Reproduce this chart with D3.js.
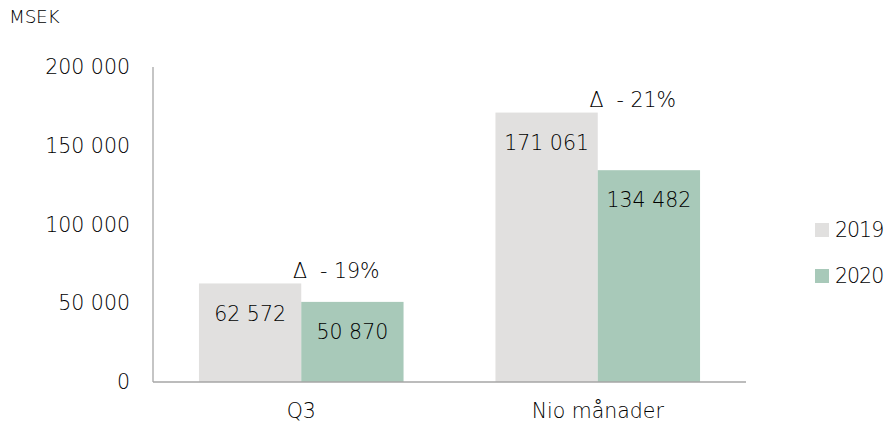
<!DOCTYPE html>
<html><head><meta charset="utf-8">
<script src="https://cdn.jsdelivr.net/npm/d3@7"></script>
<style>
body{margin:0;background:#fff;}
text{font-family:"DejaVu Sans",sans-serif;font-weight:300;fill:#000;}
</style></head><body>
<svg id="c" width="891" height="427"></svg>
<script>
const categories = ["Q3", "Nio månader"];
const seriesNames = ["2019", "2020"];
const values2019 = [62572, 171061];
const values2020 = [50870, 134482];
const valueLabels2019 = ["62 572", "171 061"];
const valueLabels2020 = ["50 870", "134 482"];
const deltaLabels = ["Δ  - 19%", "Δ  - 21%"];
const yTicks = [0, 50000, 100000, 150000, 200000];
const yTickLabels = ["0", "50 000", "100 000", "150 000", "200 000"];
const colors = ["#e1e0df", "#a8c9b9"];

const svg = d3.select("#c");
const mLeft = 153, mRight = 746, mTop = 67, mBottom = 382;
const x = d3.scaleBand().domain(categories).range([mLeft, mRight]).paddingInner(0.31).paddingOuter(0.155);
const xs = d3.scaleBand().domain(seriesNames).range([0, x.bandwidth()]);
const y = d3.scaleLinear().domain([0, 200000]).range([mBottom, mTop]);
const fs = 20.5;

svg.append("g").selectAll("text").data(yTicks).join("text")
  .attr("x", 130).attr("y", d => y(d)).attr("dy", "0.35em")
  .attr("text-anchor", "end").attr("font-size", fs)
  .text((d, i) => yTickLabels[i]);

svg.append("text").attr("x", 9).attr("y", 17).attr("dy", "0.35em").attr("font-size", 18.5)
  .attr("letter-spacing", "-0.3").text("MSEK");

const series = [values2019, values2020];
const labs = [valueLabels2019, valueLabels2020];
series.forEach((vals, s) => {
  const g = svg.append("g");
  g.selectAll("rect").data(categories).join("rect")
    .attr("x", c => x(c) + xs(seriesNames[s]))
    .attr("width", xs.bandwidth())
    .attr("y", (c, i) => y(vals[i]))
    .attr("height", (c, i) => y(0) - y(vals[i]))
    .attr("fill", colors[s]);
  g.selectAll("text").data(categories).join("text")
    .attr("x", c => x(c) + xs(seriesNames[s]) + xs.bandwidth() / 2)
    .attr("y", (c, i) => y(vals[i]) + 30)
    .attr("dy", "0.35em").attr("text-anchor", "middle").attr("font-size", fs)
    .text((c, i) => labs[s][i]);
});

svg.append("g").selectAll("text").data(categories).join("text")
  .attr("x", c => x(c) + x.bandwidth() / 2 + 35)
  .attr("y", (c, i) => y(values2019[i]) - 13)
  .attr("dy", "0.35em").attr("text-anchor", "middle").attr("font-size", fs)
  .style("white-space", "pre")
  .text((c, i) => deltaLabels[i]);

svg.append("line").attr("x1", mLeft).attr("x2", mLeft).attr("y1", mTop).attr("y2", mBottom)
  .attr("stroke", "#a6a6a6").attr("stroke-width", 1.3);
svg.append("line").attr("x1", mLeft).attr("x2", mRight).attr("y1", mBottom).attr("y2", mBottom)
  .attr("stroke", "#a6a6a6").attr("stroke-width", 1.3);

svg.append("g").selectAll("text").data(categories).join("text")
  .attr("x", c => x(c) + x.bandwidth() / 2).attr("y", 411)
  .attr("dy", "0.35em").attr("text-anchor", "middle").attr("font-size", fs)
  .text(c => c);

const lg = svg.append("g").selectAll("g").data(seriesNames).join("g")
  .attr("transform", (d, i) => `translate(815, ${230 + i * 46})`);
lg.append("rect").attr("x", 0).attr("y", -7).attr("width", 14).attr("height", 14)
  .attr("fill", (d, i) => colors[i]);
lg.append("text").attr("x", 20).attr("y", 0).attr("dy", "0.35em").attr("font-size", fs)
  .attr("letter-spacing", "-1").text(d => d);
</script></body></html>
